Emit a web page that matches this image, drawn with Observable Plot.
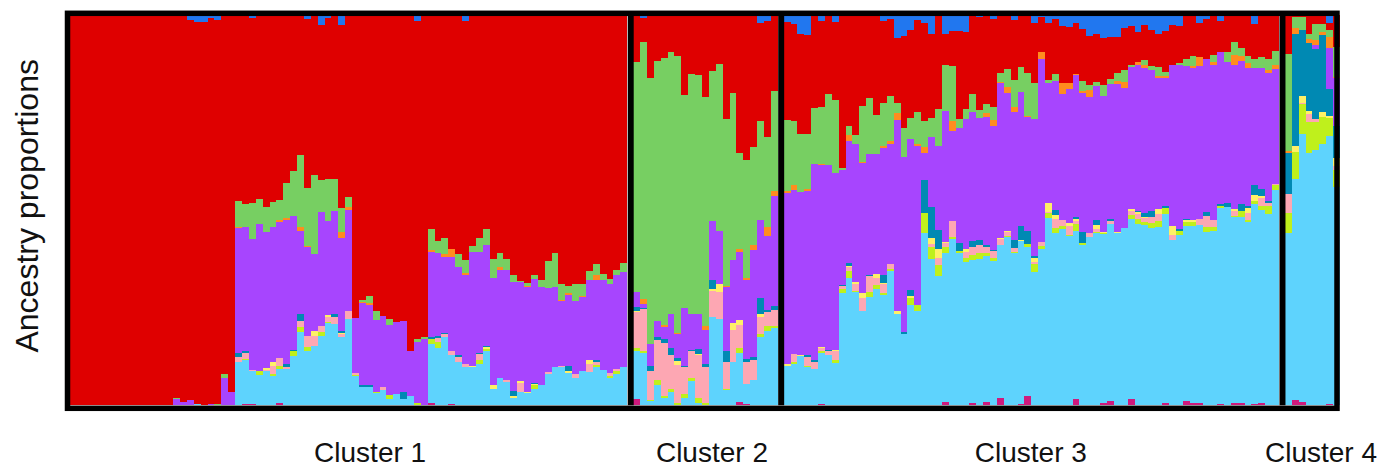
<!DOCTYPE html>
<html>
<head>
<meta charset="utf-8">
<script src="https://cdn.jsdelivr.net/npm/d3@7"></script>
<script src="https://cdn.jsdelivr.net/npm/@observablehq/plot@0.6"></script>
<style>
  html, body { margin: 0; padding: 0; background: #fff; }
</style>
</head>
<body>
<div id="chart"></div>
<script>
// Ancestry proportions (%) per individual, one sub-array per cluster.
// Components listed from the bottom of each bar to the top; the red
// component is whatever remains of 100 %.
const clusterNames = ["Cluster 1", "Cluster 2", "Cluster 3", "Cluster 4"];

const magenta = [
  [0,0,0,0,0,0,0,0,0,0,
   0,0,0,0,0,0,0,0,0,0,
   0,0,0,0,0,.3,.3,0,0,0,
   .6,0,0,0,0,0,0,0,0,0,
   0,0,0,0,0,0,0,0,0,0,
   0,0,.6,0,0,.3,0,0,0,0,
   0,0,0,0,0,0,0,0,0,0,
   0,0,0,0,0,0,0,0,0,0,
   0],
  [1.5,0,0,0,0,0,0,0,0,0, 0,0,0,0,0,.9,.3,0,0,0, 0],
  [0,0,0,0,0,.3,0,0,0,0,
   0,0,0,0,0,0,0,0,0,0,
   0,0,0,.9,0,0,0,.6,0,.9,
   0,1.9,0,0,.3,2.4,0,0,0,0,
   0,0,1.6,0,0,0,.6,1.1,0,0,
   1.6,0,0,0,0,.6,0,0,1.1,.5,
   .5,0,0,.3,0,.6,.6,0,.3,.6,
   0,0],
  [0,1.4,.9,0,0,0,.3,0]
];

const lightBlue = [
  [0,0,0,0,0,0,0,0,0,0,
   0,0,0,0,0,0,0,0,.3,0,
   0,0,0,0,11.1,11.4,8.4,7.7,8.7,7.6,
   8.8,9.4,12.7,18.9,14,15.3,17.8,21.1,20.9,17.5,
   22.1,7.4,4.8,4.8,3.2,3.8,1.7,3,1.5,2.5,
   .2,0,15,14.8,17.4,12.6,11.2,9.9,9.9,10.7,
   14,4.3,7.1,6.1,2,3.5,3.2,4.3,5.3,8.1,
   9.9,9.7,8.4,7.1,8.9,8.6,9.9,9.1,7.1,8.1,
   9.7],
  [12.3,13.5,1,5.3,2,3.5,0,2,6.3,.7, 0,22.6,22.1,4,11.2,12.6,5.2,6.6,17.5,19.1, 19.8],
  [10.2,10.7,12.7,9.9,9.4,13.2,13,10.9,28.8,32.6,
   29.1,24.2,27.8,29.8,28.3,34.4,23.4,18.3,25.7,24.2,
   44.2,37.4,33.2,38.2,42.6,39.1,36.8,36.7,37.5,37.4,
   37,39.2,43.2,39.1,41.8,38.2,34.2,40.1,47.9,44.2,
   45.2,43.4,43.1,41.1,43.2,44.2,43.3,45.4,44.2,45.5,
   46.2,46.5,46.2,45.5,45.7,48.5,42.4,43.7,44.9,45.5,
   45.8,44.4,44.7,50.3,50.9,47.7,47.7,47,51.3,49.5,
   49.1,55.2],
  [44.2,56.7,68.7,64.7,65.5,67,68.8,56]
];

const lime = [
  [0,0,0,0,0,0,0,0,0,0,
   0,0,0,0,0,0,0,0,0,0,
   0,0,0,0,0,.3,0,1,0,.5,
   .8,0,1.3,1.2,.9,0,1.1,.3,0,0,
   0,.3,0,0,.3,0,1,0,0,0,
   .5,0,1.3,1.5,0,0,0,0,0,1,
   .5,0,0,0,0,0,0,.8,0,0,
   0,0,0,0,0,0,.5,0,.5,.8,
   0],
  [1,.3,.3,1.3,.5,.8,.7,1,.8,1.3, .7,0,0,.3,0,1.3,0,0,.8,1.3, .5],
  [0,.3,0,.3,0,.3,0,.8,1,1.8,
   .3,0,1.3,1,.5,.5,0,0,1.8,1.5,
   5.1,3.2,2.7,1.5,.5,.4,1,1.3,1.5,.8,
   .8,0,.3,.3,0,.8,2.1,.8,1.3,1.3,
   .8,.3,1.8,.5,0,.3,.3,0,0,0,
   1,1.3,.8,1.3,1.5,1.5,0,1,1,1,
   0,1.3,1,.5,0,.3,1.5,.5,.8,1,
   2.1,1.3],
  [5.1,6.9,7.7,7.9,7.2,6.9,4.6,4.4]
];

const pink = [
  [0,0,0,0,0,0,0,0,0,0,
   0,0,0,0,0,0,0,0,0,0,
   0,0,0,0,1.3,1.5,.4,0,.4,2.1,
   2,.3,0,1.5,2.9,2.5,1.5,1.3,1.8,.8,
   2.1,.5,0,0,0,.8,0,0,0,0,
   0,0,0,1,.8,1,1.3,.8,0,1.5,
   0,0,0,.3,0,2.3,0,0,0,.5,
   0,.5,0,.8,0,2.1,.8,0,.8,.5,
   0],
  [9.1,10.9,7.4,10.1,13.6,8.5,9.7,6.7,6.7,10.8, 9,6.7,6.9,6.9,8.1,5.8,5.6,4.9,4.4,3.6, 4.1],
  [0,2.1,0,2.3,1.8,.8,1,2.1,.8,1,
   1.8,3.3,4.1,1.8,2.3,1.3,0,0,0,0,
   0,.7,1.8,1,4.1,0,1.5,2.1,2.1,1.5,
   1.8,1.5,1,1,0,0,.5,1,.4,2.3,
   1.5,2.3,.8,0,1,.8,0,.8,0,0,
   1,1.3,1,1.5,1.8,0,1.3,0,0,0,
   1.5,2.8,1.8,0,0,1.3,0,1.8,0,2.1,
   .8,.3],
  [4.9,0,.3,2.1,.8,0,0,1]
];

const yellow = [
  [0,0,0,0,0,0,0,0,0,0,
   0,0,0,0,0,0,0,0,0,0,
   0,0,0,0,0,0,0,0,.4,.9,
   0,0,0,0,0,1.2,0,.5,0,.3,
   0,0,0,0,0,0,0,0,0,0,
   0,0,0,0,0,0,0,0,.3,0,
   .5,1,0,0,.3,.5,.3,.3,0,0,
   0,0,.3,0,0,.8,0,0,0,0,
   0],
  [.3,0,0,0,0,0,1,0,0,.3, 0,.4,2,0,1.8,1.3,0,0,.8,0, 0],
  [.3,0,.3,0,0,.3,0,.5,0,.3,
   .5,1.3,0,1,.3,0,.8,0,.5,0,
   0,1.7,2.3,.3,0,0,.9,0,0,0,
   0,.3,.3,0,.3,0,1,0,2.3,1,
   0,.8,.5,0,0,1,.3,0,.3,0,
   .5,.5,.3,0,1.3,0,2.3,0,.5,.5,
   0,0,0,0,0,.5,0,1.3,1.5,.5,
   0,0],
  [0,1.5,1.8,.8,0,1.3,.5,2.1]
];

const teal = [
  [0,0,0,0,0,0,0,0,0,0,
   0,0,0,0,0,0,0,0,0,0,
   0,0,0,0,1,.3,0,0,0,0,
   0,.8,.3,1.8,0,0,0,0,.8,.5,
   0,0,.3,.3,0,0,0,0,1.8,0,
   0,0,.5,.5,.4,0,.3,0,0,.3,
   .3,0,0,0,1.3,0,0,.3,0,0,
   0,0,1.3,0,0,0,.5,0,0,0,
   0],
  [1,.3,1.5,.8,.8,1.8,.8,.3,.5,1.3, 1,2.5,0,2.6,0,0,.8,.8,4.1,.5, 1],
  [0,0,0,.3,.3,0,.3,0,.3,.8,
   0,0,.3,0,2.1,0,0,.5,1.5,0,
   8.5,7.9,4.9,0,0,2.1,0,1.5,1.3,.5,
   .3,0,0,2.1,3.6,3.3,.5,0,0,1.3,
   0,0,.5,2.8,0,1.3,0,.5,0,0,
   0,.3,1,1.5,0,.5,0,.5,.3,0,
   0,1,0,.5,1,0,1.8,.5,2.6,1.8,
   .5,0],
  [10.5,28.7,16.9,17.4,17.9,19.7,6.9,8.2]
];

const purple = [
  [0,0,0,0,0,0,0,0,0,0,
   0,0,0,0,0,1.5,.9,1.4,0,0,
   .3,0,7,3.4,32,31.8,33.5,37.8,34.9,34.6,
   34.9,37.1,34.3,21.3,22.8,19.8,29.2,24.1,26.2,23.8,
   25.9,14.3,21.2,20.7,18.4,18.4,17.9,18.4,18.4,11.5,
   15.5,17.1,22,21.2,19.5,24,22.7,22.8,29.1,25.8,
   25.8,27.4,27.6,28.4,27.9,25.3,26.8,26.6,25,21.5,
   20.4,16.6,18.4,18.9,18.9,20.7,20.4,23,22.7,24,
   24.5],
  [3.8,1,5.4,4.2,3.2,8.9,6.1,15,9.1,8.9, 8.6,15.1,13.6,16.6,16.2,17.4,20.2,27.4,20,19, 28.2],
  [44,42,41.7,42.2,50.4,46.8,47.4,45.3,29.5,31.3,
   35.4,33.3,31,30.8,32.6,30.8,48.9,44.9,38.7,40.8,
   6.8,17.9,21.5,33.6,23.1,29.5,33.1,33.1,31.3,32.8,
   31.8,39.7,35.4,32.6,34.4,29.2,35.1,46.9,30.8,33.1,
   32.3,34.4,36.4,35.6,34.9,34.4,34.9,34.6,37.9,35.9,
   36.4,37.4,37.2,36.2,33.6,32.8,41.3,42.1,39.2,39,
   39.2,39.2,39.7,39,36.2,36.9,36.7,35.4,30,31,
   32.6,29.5],
  [0,0,0,0,1,0,10.5,12.1]
];

const orange = [
  [0,0,0,0,0,0,0,0,0,0,
   0,0,0,0,0,0,0,0,0,0,
   0,0,0,0,.3,0,0,0,0,0,
   .5,.5,0,1,.3,0,0,0,0,1.5,
   .8,0,.3,.5,0,0,0,0,0,0,
   0,0,.3,0,.8,2.1,0,.3,0,0,
   0,0,.8,0,0,0,.3,0,0,0,
   0,.3,.3,0,.3,0,1.3,0,0,0,
   0],
  [0,1.3,0,0,.5,0,.3,0,0,0, 1,0,0,.3,0,.8,.5,1.5,0,2.1, 1.3],
  [.5,1.5,0,.5,0,.3,0,0,0,1.5,
   0,.3,0,0,.3,.8,1.8,0,0,.5,
   1.6,0,0,0,2.6,0,0,0,0,1,
   1.5,.3,1.5,1.5,0,.3,0,1.8,0,0,
   2.8,1.5,.3,.5,1.8,0,0,0,.8,1.5,
   0,.8,.8,0,.5,.5,0,0,0,.5,
   2.3,0,.8,0,0,2.6,1.3,1.3,0,0,
   1,1],
  [.5,1.5,0,1,1.3,.8,2.8,.3]
];

const green = [
  [0,0,0,0,0,0,0,0,0,0,
   0,0,0,0,0,.3,0,0,0,0,
   0,.3,1,0,6.7,5.9,9.2,6.4,6.4,6.4,
   5.1,9,11.5,18.5,14.9,20.3,8.2,10.8,8.2,6.2,
   2.6,0,.5,1.8,2.3,0,1.5,0,0,0,
   .8,.3,5.4,3.1,4.1,0,3.3,3.5,1.5,3.6,
   4.1,4.9,3.6,2.6,1.8,.3,.8,1,1.8,6.9,
   8.7,4.1,1.8,4.4,3.1,2.3,2.8,1.5,1.3,1.3,
   2.3],
  [59,65.9,68.4,66.7,68.5,67.2,71,54.6,61.5,61.3, 58.7,38.5,42.8,42.8,42.8,24.6,30.3,25.1,25.4,23.3, 25.6],
  [18.2,16.2,14.9,14.1,14.4,14.4,18.2,18.7,.5,2.3,
   2.3,14.4,14.4,10,11,11.5,2.6,7.4,5.4,8.2,
   6.7,4.9,9.7,11.8,14.1,2.3,2.6,4.4,2.1,2.3,
   3.3,2.3,4.6,6.9,6.4,11,9.2,0,.8,1.8,
   0,0,0,2.6,1.3,.8,2.8,1.3,2.1,3.1,
   .5,0,1.3,1,2.3,1,0,.5,1.8,2.6,
   0,0,1.8,0,2.6,3.3,2.1,1.8,2.3,2.8,
   2.8,3.6],
  [24.9,2.8,3.3,1.3,4.1,2.1,1.8,7.7]
];

const blue = [
  [0,0,0,0,0,0,0,0,0,0,
   0,0,0,.3,.3,0,.3,1.1,1.6,1.6,
   .7,1.1,0,.2,0,0,.6,0,0,0,
   0,0,0,0,.9,0,2.6,.6,0,2.6,
   0,0,0,0,.3,0,0,0,0,0,
   1.4,0,0,0,0,0,0,1.5,0,0,
   0,0,0,0,0,0,0,.2,0,0,
   0,0,0,0,0,0,0,0,0,0,
   0],
  [0,.7,0,0,0,0,0,0,0,0, 0,0,0,0,0,0,0,0,2.1,1.5, 0],
  [1.7,2.2,4.8,5,0,1.5,0,1.7,0,0,
   0,0,0,0,1.5,.9,5.8,5.3,3.8,1.2,
   2,4.8,0,4.8,4,4,4.3,0,.4,0,
   .9,0,0,1.2,0,0,2,.4,2,.9,
   2.7,3,2,3.5,5.3,4.8,5.8,5.6,5.6,3.2,
   2.7,4.3,2.5,3.8,4.8,4,2.5,2.7,0,0,
   2,.9,0,1.5,0,0,0,0,2.2,0,
   0,0],
  [0,0,0,0,0,0,2,0]
];

// Red fills each bar up to 100 %, below the blue cap.
const belowRed = [magenta, lightBlue, lime, pink, yellow, teal, purple, orange, green];
const red = clusterNames.map((_, c) =>
  lightBlue[c].map((_, i) => Math.max(0, 100 - [...belowRed, blue].reduce((s, a) => s + a[c][i], 0)))
);

// Stacking order (bottom → top) and fill colours.
const componentNames = ["K1", "K2", "K3", "K4", "K5", "K6", "K7", "K8", "K9", "K10", "K11"];
const componentValues = [magenta, lightBlue, lime, pink, yellow, teal, purple, orange, green, red, blue];
const componentColors = ["#cf1a7d", "#5ed3fd", "#bff01c", "#fda7b3", "#fef067", "#0089b3",
                         "#a745fe", "#ff8c1f", "#77cf62", "#df0000", "#2177ef"];

// ---- layout -------------------------------------------------------------
const width = 1393, height = 470;
const marginLeft = 70, marginRight = 53, marginTop = 15.3, marginBottom = 64.7;
const gap = 0.87;                       // space between clusters, in bar widths
const sizes = clusterNames.map((_, c) => lightBlue[c].length);
const offsets = [];
let acc = 0;
sizes.forEach(n => { offsets.push(acc); acc += n + gap; });
const total = acc - gap;
const pxPerBar = (width - marginLeft - marginRight) / total;
const labelShiftPx = [21, 6, -1, 8];    // horizontal nudges of the cluster captions

// One rectangle per (individual, component) with its stacked extent.
const segments = [];
clusterNames.forEach((cluster, c) => {
  for (let i = 0; i < sizes[c]; ++i) {
    let y = 0;
    componentValues.forEach((values, k) => {
      const v = values[c][i];
      if (v > 0) {
        segments.push({cluster, component: componentNames[k], x1: offsets[c] + i, x2: offsets[c] + i + 1, y1: y, y2: y + v});
        y += v;
      }
    });
  }
});

const separators = offsets.slice(1).map(o => o - gap / 2);
const captions = clusterNames.map((name, c) => ({
  name,
  x: offsets[c] + sizes[c] / 2 + labelShiftPx[c] / pxPerBar
}));

const font = "'Liberation Sans', Arial, Helvetica, sans-serif";

const chart = Plot.plot({
  width, height, marginLeft, marginRight, marginTop, marginBottom,
  x: {domain: [0, total], axis: null},
  y: {domain: [0, 100], axis: null},
  color: {domain: componentNames, range: componentColors},
  marks: [
    Plot.rect(segments, {x1: "x1", x2: "x2", y1: "y1", y2: "y2", fill: "component", shapeRendering: "crispEdges"}),
    Plot.ruleX(separators, {stroke: "#000", strokeWidth: 6}),
    Plot.frame({stroke: "#000", strokeWidth: 5.5, insetLeft: -3, insetRight: 3.5, insetTop: -2.5, insetBottom: -2.5}),
    Plot.text(captions, {x: "x", text: "name", frameAnchor: "bottom", dy: 56, fontSize: 28, fontFamily: font, fill: "#111"}),
    Plot.text(["Ancestry proportions"], {frameAnchor: "left", textAnchor: "middle", rotate: -90, dx: -43, dy: -5, fontSize: 32, fontFamily: font, fill: "#111"})
  ]
});

document.getElementById("chart").append(chart);
</script>
</body>
</html>
